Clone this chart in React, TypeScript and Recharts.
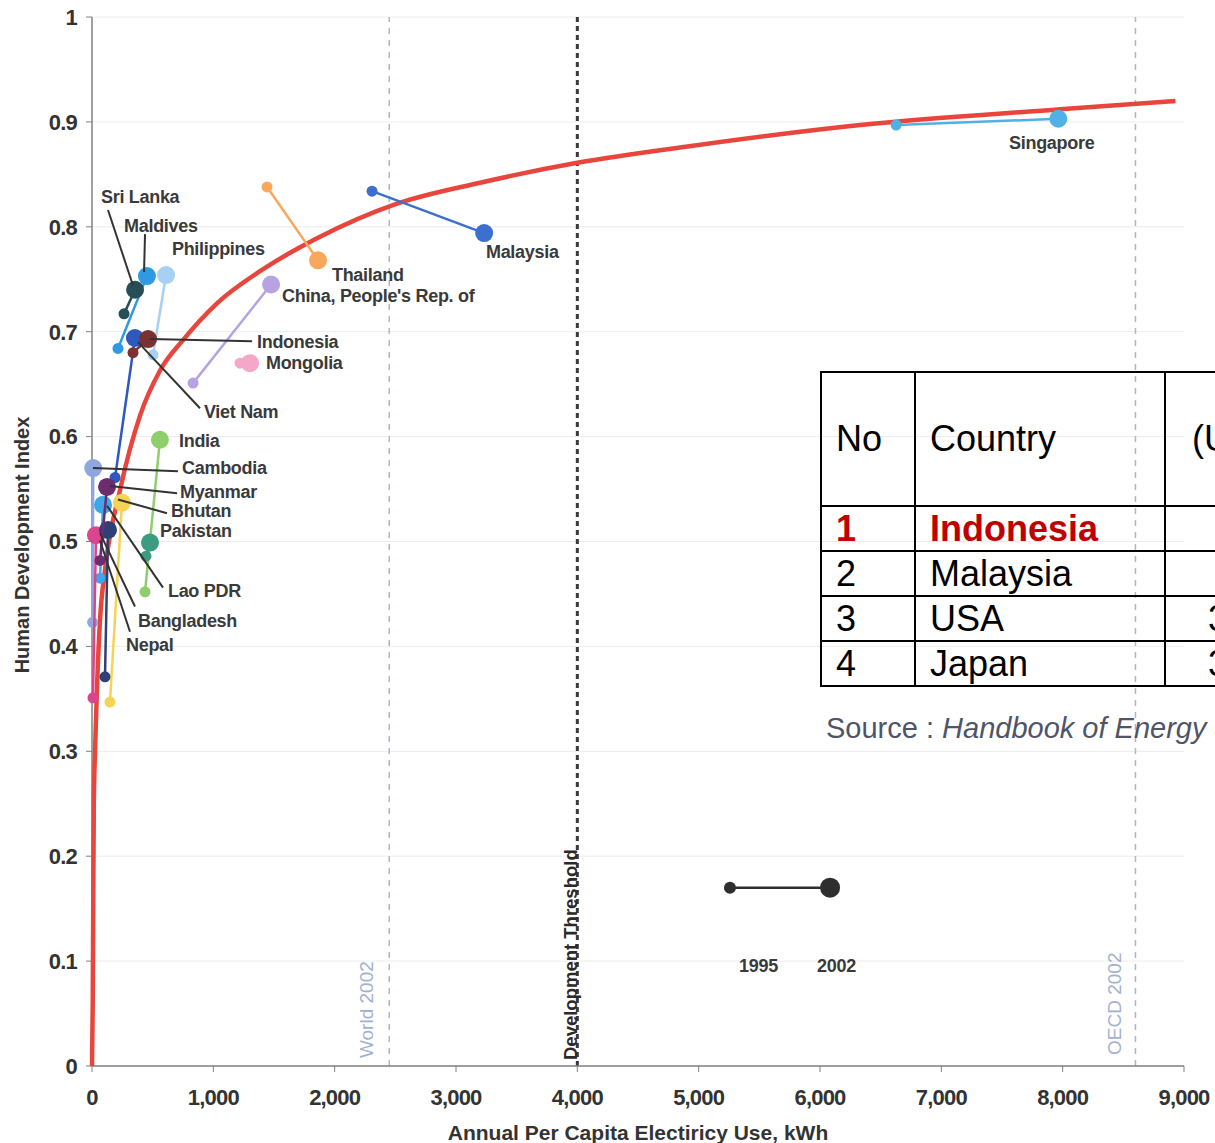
import React from 'react';
import { ScatterChart, Scatter, XAxis, YAxis, CartesianGrid, ReferenceLine } from 'recharts';

const FONT = '"Liberation Sans", Arial, Helvetica, sans-serif';

const xTicks = [0, 1000, 2000, 3000, 4000, 5000, 6000, 7000, 8000, 9000];
const yTicks = [0, 0.1, 0.2, 0.3, 0.4, 0.5, 0.6, 0.7, 0.8, 0.9, 1];

// 1995 -> 2002 per country (kWh per capita, HDI)
const countries = [
  'Singapore', 'Malaysia', 'Thailand', 'China', 'Mongolia', 'Philippines', 'Maldives', 'Sri Lanka',
  'Viet Nam', 'Indonesia', 'India', 'Pakistan', 'Cambodia', 'Bhutan', 'Lao PDR', 'Nepal',
  'Bangladesh', 'Myanmar',
];
const kwh1995 = [6628, 2308, 1443, 833, 1220, 503, 214, 264, 190, 338, 437, 445, 5, 148, 66, 8, 107, 66];
const hdi1995 = [0.897, 0.834, 0.838, 0.651, 0.67, 0.678, 0.684, 0.717, 0.561, 0.68, 0.452, 0.486, 0.423, 0.347, 0.465, 0.351, 0.371, 0.482];
const kwh2002 = [7964, 3232, 1863, 1476, 1302, 610, 453, 355, 354, 462, 560, 478, 10, 247, 91, 33, 132, 124];
const hdi2002 = [0.903, 0.794, 0.768, 0.745, 0.67, 0.754, 0.753, 0.74, 0.694, 0.693, 0.597, 0.499, 0.57, 0.537, 0.535, 0.506, 0.511, 0.552];

const countryColors: Record<string, string> = {
  Singapore: '#50b0e8',
  Malaysia: '#3b6fd0',
  Thailand: '#f7a85c',
  China: '#b7a3e2',
  Mongolia: '#f4a7c6',
  Philippines: '#a8d0f3',
  Maldives: '#2e9ae2',
  'Sri Lanka': '#264e57',
  'Viet Nam': '#2f58be',
  Indonesia: '#7b3131',
  India: '#8fcf6b',
  Pakistan: '#3c9c80',
  Cambodia: '#8ea7df',
  Bhutan: '#f5d354',
  'Lao PDR': '#3da7ea',
  Nepal: '#d9468e',
  Bangladesh: '#2d4177',
  Myanmar: '#6d2c6d',
};

// trend curve
const fitKwh = [0, 6, 10, 15, 25, 41, 66, 107, 231, 396, 561, 750, 1030, 1443, 1855, 2514, 3199, 4000, 5000, 6331, 7980, 8930];
const fitHdi = [0, 0.06, 0.15, 0.25, 0.3, 0.36, 0.425, 0.473, 0.549, 0.62, 0.663, 0.692, 0.727, 0.762, 0.789, 0.822, 0.842, 0.861, 0.878, 0.897, 0.912, 0.92];

const countryLabels = [
  { text: 'Sri Lanka', x: 74, y: 0.828 },
  { text: 'Maldives', x: 264, y: 0.801 },
  { text: 'Philippines', x: 659, y: 0.779 },
  { text: 'Thailand', x: 1978, y: 0.754 },
  { text: "China, People's Rep. of", x: 1566, y: 0.734 },
  { text: 'Malaysia', x: 3247, y: 0.776 },
  { text: 'Singapore', x: 7558, y: 0.88 },
  { text: 'Indonesia', x: 1360, y: 0.69 },
  { text: 'Mongolia', x: 1434, y: 0.67 },
  { text: 'Viet Nam', x: 923, y: 0.623 },
  { text: 'India', x: 717, y: 0.596 },
  { text: 'Cambodia', x: 742, y: 0.57 },
  { text: 'Myanmar', x: 725, y: 0.547 },
  { text: 'Bhutan', x: 651, y: 0.529 },
  { text: 'Pakistan', x: 560, y: 0.51 },
  { text: 'Lao PDR', x: 626, y: 0.453 },
  { text: 'Bangladesh', x: 379, y: 0.424 },
  { text: 'Nepal', x: 280, y: 0.401 },
  { text: '1995', x: 5333, y: 0.095 },
  { text: '2002', x: 5976, y: 0.095 },
];

// [x1, y1, x2, y2]
const leaderLines = [
  [132, 0.816, 338, 0.744],
  [437, 0.793, 429, 0.757],
  [478, 0.693, 1319, 0.691],
  [379, 0.69, 890, 0.627],
  [8, 0.57, 709, 0.567],
  [148, 0.553, 701, 0.546],
  [214, 0.54, 618, 0.527],
  [124, 0.534, 585, 0.456],
  [66, 0.508, 354, 0.438],
  [66, 0.501, 313, 0.414],
];

const legendKwh = [5258, 6083];
const legendHdi = 0.17;

const refLines = [
  { x: 2450, text: 'World 2002', labelX: 2316, labelY: 0.0076 },
  { x: 4000, text: 'Development Threshold', labelX: 3997, labelY: 0.0057 },
  { x: 8600, text: 'OECD 2002', labelX: 8481, labelY: 0.0105 },
];

const REF_STYLE = [
  { stroke: '#a9b6d6', width: 1.5, dash: '6 6', fill: '#a3b1d0', weight: 400, size: 19 },
  { stroke: '#3a3a3a', width: 3, dash: '5 4', fill: '#2a2a2a', weight: 700, size: 18.5 },
  { stroke: '#a9b6d6', width: 1.5, dash: '6 6', fill: '#a3b1d0', weight: 400, size: 19 },
];

const tableRows = [
  { no: '1', country: 'Indonesia', value: '920', highlight: true },
  { no: '2', country: 'Malaysia', value: '4,100', highlight: false },
  { no: '3', country: 'USA', value: '36,000', highlight: false },
  { no: '4', country: 'Japan', value: '31,000', highlight: false },
];

const noShape = () => <g />;

const dotShape = (color: string) => (props: any) => {
  const { cx, cy, payload } = props;
  if (cx == null || cy == null) return <g />;
  return <circle cx={cx} cy={cy} r={payload.year === 1995 ? 5.5 : 9} fill={color} />;
};

const legendShape = (props: any) => {
  const { cx, cy, payload } = props;
  return <circle cx={cx} cy={cy} r={payload.year === 1995 ? 6 : 10} fill="#2e2e2e" />;
};

const textShape = (props: any) => {
  const { cx, cy, payload } = props;
  return (
    <text
      x={cx}
      y={cy}
      fill="#3a3a3a"
      fontSize={18}
      fontWeight={700}
      fontFamily={FONT}
      letterSpacing={-0.3}
      dominantBaseline="central"
    >
      {payload.text}
    </text>
  );
};

const refTextShape = (style: (typeof REF_STYLE)[number]) => (props: any) => {
  const { cx, cy, payload } = props;
  return (
    <text
      x={cx}
      y={cy}
      fill={style.fill}
      fontSize={style.size}
      fontWeight={style.weight}
      fontFamily={FONT}
      transform={`rotate(-90 ${cx} ${cy})`}
    >
      {payload.text}
    </text>
  );
};

const cellBase: React.CSSProperties = {
  border: '2px solid #000',
  padding: '0 0 0 14px',
  verticalAlign: 'middle',
  lineHeight: '40px',
  whiteSpace: 'nowrap',
  overflow: 'hidden',
};

export default function App() {
  const fitData = fitKwh.map((x, i) => ({ x, y: fitHdi[i] }));
  const legendData = [
    { x: legendKwh[0], y: legendHdi, year: 1995 },
    { x: legendKwh[1], y: legendHdi, year: 2002 },
  ];

  return (
    <div
      style={{
        position: 'absolute',
        left: 0,
        top: 0,
        width: 1215,
        height: 1143,
        overflow: 'hidden',
        background: '#fff',
        fontFamily: FONT,
      }}
    >
      <ScatterChart width={1215} height={1143} margin={{ top: 17, right: 31, bottom: 0, left: 0 }}>
        <CartesianGrid vertical={false} stroke="#ececec" />
        <XAxis
          type="number"
          dataKey="x"
          domain={[0, 9000]}
          ticks={xTicks}
          interval={0}
          height={77}
          tickFormatter={(v: number) => v.toLocaleString('en-US')}
          axisLine={{ stroke: '#808080', strokeWidth: 1.5 }}
          tickLine={{ stroke: '#808080' }}
          tickSize={6}
          tickMargin={17}
          tick={{ fill: '#333', fontSize: 22, fontWeight: 700, fontFamily: FONT, letterSpacing: -0.8 }}
          label={{
            value: 'Annual Per Capita Electiricy Use, kWh',
            position: 'insideBottom',
            offset: 3,
            fill: '#333',
            fontSize: 21,
            fontWeight: 700,
            fontFamily: FONT,
          }}
        />
        <YAxis
          type="number"
          dataKey="y"
          domain={[0, 1]}
          ticks={yTicks}
          interval={0}
          width={92}
          axisLine={{ stroke: '#808080', strokeWidth: 1.5 }}
          tickLine={{ stroke: '#808080' }}
          tickSize={6}
          tickMargin={9}
          tick={{ fill: '#333', fontSize: 22, fontWeight: 700, fontFamily: FONT, letterSpacing: -0.8 }}
        />

        {refLines.map((r, i) => (
          <ReferenceLine
            key={r.text}
            x={r.x}
            stroke={REF_STYLE[i].stroke}
            strokeWidth={REF_STYLE[i].width}
            strokeDasharray={REF_STYLE[i].dash}
          />
        ))}
        {refLines.map((r, i) => (
          <Scatter
            key={`ref-label-${r.text}`}
            data={[{ x: r.labelX, y: r.labelY, text: r.text }]}
            shape={refTextShape(REF_STYLE[i])}
            isAnimationActive={false}
          />
        ))}

        <Scatter
          data={fitData}
          line={{ stroke: '#e8463c', strokeWidth: 4.5 }}
          lineJointType="monotoneX"
          shape={noShape}
          isAnimationActive={false}
        />

        {countries.map((name, i) => (
          <Scatter
            key={name}
            name={name}
            data={[
              { x: kwh1995[i], y: hdi1995[i], year: 1995 },
              { x: kwh2002[i], y: hdi2002[i], year: 2002 },
            ]}
            line={{ stroke: countryColors[name], strokeWidth: 2.5 }}
            shape={dotShape(countryColors[name])}
            isAnimationActive={false}
          />
        ))}

        {leaderLines.map((l, i) => (
          <Scatter
            key={`leader-${i}`}
            data={[
              { x: l[0], y: l[1] },
              { x: l[2], y: l[3] },
            ]}
            line={{ stroke: '#333', strokeWidth: 2 }}
            shape={noShape}
            isAnimationActive={false}
          />
        ))}

        <Scatter
          data={legendData}
          line={{ stroke: '#2e2e2e', strokeWidth: 2.5 }}
          shape={legendShape}
          isAnimationActive={false}
        />

        <Scatter data={countryLabels} shape={textShape} isAnimationActive={false} />
      </ScatterChart>

      <div
        style={{
          position: 'absolute',
          left: 22,
          top: 545,
          transform: 'translate(-50%, -50%) rotate(-90deg)',
          whiteSpace: 'nowrap',
          fontSize: 20,
          fontWeight: 700,
          color: '#333',
        }}
      >
        Human Development Index
      </div>

      <div style={{ position: 'absolute', left: 820, top: 371, width: 580 }}>
        <table
          style={{
            borderCollapse: 'collapse',
            fontSize: 36,
            color: '#000',
            tableLayout: 'fixed',
            width: 564,
          }}
        >
          <colgroup>
            <col style={{ width: 94 }} />
            <col style={{ width: 250 }} />
            <col style={{ width: 220 }} />
          </colgroup>
          <tbody>
            <tr style={{ height: 134 }}>
              <td style={cellBase}>No</td>
              <td style={cellBase}>Country</td>
              <td style={{ ...cellBase, padding: 0 }}>
                <div style={{ paddingLeft: 26 }}>(US$)</div>
              </td>
            </tr>
            {tableRows.map((r) => (
              <tr key={r.no} style={{ height: 45 }}>
                <td
                  style={{
                    ...cellBase,
                    color: r.highlight ? '#c00000' : '#000',
                    fontWeight: r.highlight ? 700 : 400,
                  }}
                >
                  {r.no}
                </td>
                <td
                  style={{
                    ...cellBase,
                    color: r.highlight ? '#c00000' : '#000',
                    fontWeight: r.highlight ? 700 : 400,
                  }}
                >
                  {r.country}
                </td>
                <td style={{ ...cellBase, padding: 0 }}>
                  <div style={{ width: 152, textAlign: 'right' }}>{r.value}</div>
                </td>
              </tr>
            ))}
          </tbody>
        </table>
      </div>

      <div
        style={{
          position: 'absolute',
          left: 826,
          top: 712,
          fontSize: 29,
          color: '#4f5468',
          whiteSpace: 'nowrap',
        }}
      >
        Source : <i>Handbook of Energy &amp; Economic Statistics of Indonesia</i>
      </div>
    </div>
  );
}
